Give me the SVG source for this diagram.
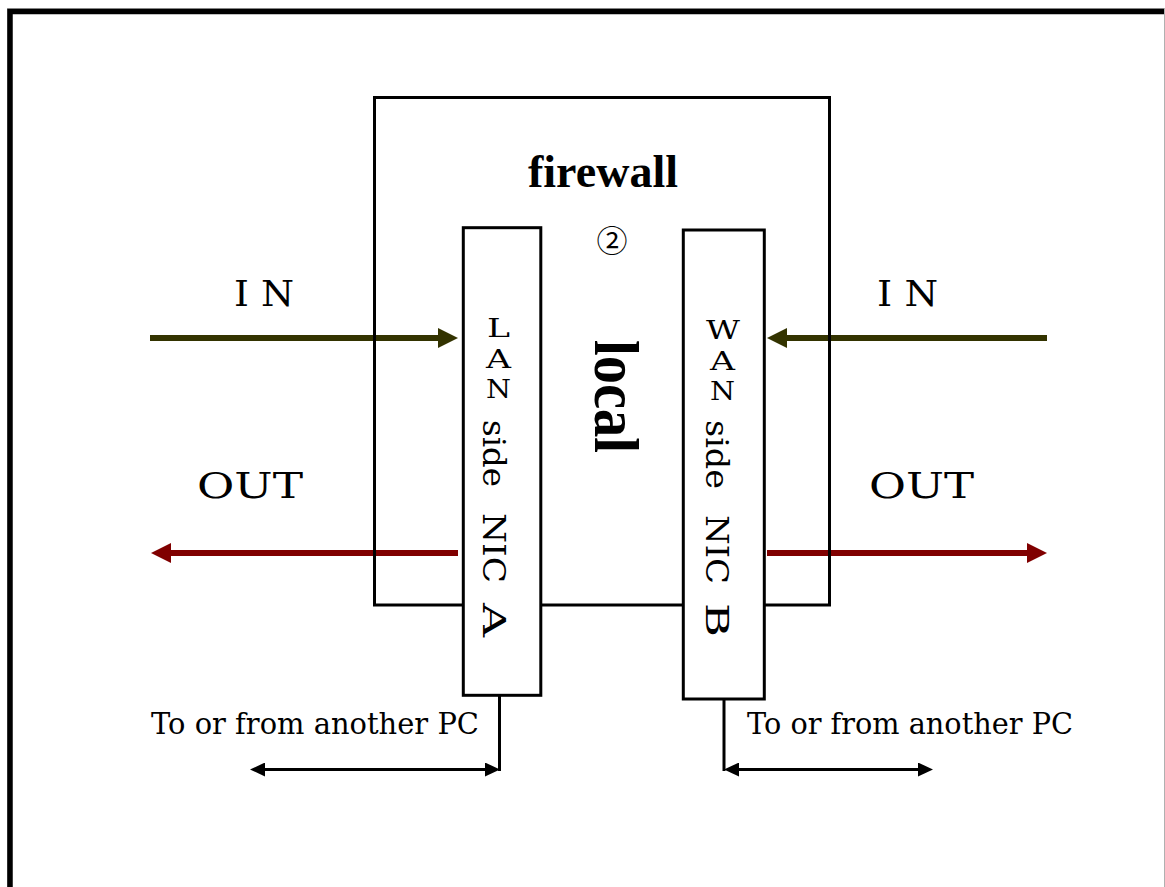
<svg xmlns="http://www.w3.org/2000/svg" width="1165" height="887" viewBox="0 0 1165 887">
  <style>
    .box { fill: #ffffff; stroke: #000000; stroke-width: 3; }
    .frame { fill: none; stroke: #000000; stroke-width: 3; }
    .lbl { font-family: "DejaVu Serif", "Liberation Serif", serif; fill: #000000; }
    .bold { font-family: "Liberation Serif", "DejaVu Serif", serif; font-weight: bold; fill: #000000; }
    .in { stroke: #333300; stroke-width: 6; fill: none; }
    .out { stroke: #800000; stroke-width: 6; fill: none; }
    .wire { stroke: #000000; stroke-width: 3; fill: none; }
  </style>
  <defs>
    <marker id="headIn" markerUnits="userSpaceOnUse" markerWidth="20" markerHeight="20" refX="2" refY="10" orient="auto">
      <path d="M0,0 L20,10 L0,20 z" fill="#333300"/>
    </marker>
    <marker id="headOut" markerUnits="userSpaceOnUse" markerWidth="20" markerHeight="20" refX="2" refY="10" orient="auto">
      <path d="M0,0 L20,10 L0,20 z" fill="#800000"/>
    </marker>
    <marker id="headBlk" markerUnits="userSpaceOnUse" markerWidth="16" markerHeight="14" refX="2" refY="7" orient="auto-start-reverse">
      <path d="M0,0 L15,7 L0,14 z" fill="#000000"/>
    </marker>
  </defs>

  <rect x="0" y="0" width="1165" height="887" fill="#ffffff"/>
  <g id="page-frame">
    <rect x="7.5" y="8.5" width="1157" height="900" fill="none" stroke="#b0b0b0" stroke-width="1"/>
    <path d="M10,887 V11.5 H1164" fill="none" stroke="#000000" stroke-width="5.5"/>
  </g>

  <g id="connectors">
    <line class="in" x1="150" y1="338" x2="440" y2="338" marker-end="url(#headIn)"/>
    <line class="out" x1="458" y1="553" x2="169" y2="553" marker-end="url(#headOut)"/>
    <line class="in" x1="1047" y1="338" x2="785" y2="338" marker-end="url(#headIn)"/>
    <line class="out" x1="767" y1="553" x2="1029" y2="553" marker-end="url(#headOut)"/>
    <path class="wire" d="M499.5,695 V771"/>
    <line class="wire" x1="263" y1="769.5" x2="487" y2="769.5" marker-start="url(#headBlk)" marker-end="url(#headBlk)"/>
    <path class="wire" d="M724,699 V771"/>
    <line class="wire" x1="737" y1="769.5" x2="920" y2="769.5" marker-start="url(#headBlk)" marker-end="url(#headBlk)"/>
  </g>

  <g id="firewall">
    <rect class="frame" x="374.5" y="97.5" width="455" height="507.5"/>
    <text class="bold" x="603" y="186.5" font-size="46" text-anchor="middle" textLength="150" lengthAdjust="spacingAndGlyphs">firewall</text>
    <text x="612" y="252" font-size="31" text-anchor="middle" font-family="'Noto Sans CJK JP', 'DejaVu Sans', sans-serif">②</text>
    <text class="bold" transform="translate(595,0) rotate(90)" x="340" y="0" font-size="63" textLength="113" lengthAdjust="spacingAndGlyphs">local</text>
  </g>

  <g id="nic-a">
    <rect class="box" x="463.3" y="227.7" width="77.5" height="467.6"/>
    <text class="lbl" x="487" y="337" font-size="26" textLength="23" lengthAdjust="spacingAndGlyphs">L</text>
    <text class="lbl" x="486" y="367.5" font-size="26" textLength="25" lengthAdjust="spacingAndGlyphs">A</text>
    <text class="lbl" x="486" y="398" font-size="26" textLength="25" lengthAdjust="spacingAndGlyphs">N</text>
    <text class="lbl" transform="translate(483,0) rotate(90)" y="0" font-size="32">
      <tspan x="420" textLength="67" lengthAdjust="spacingAndGlyphs">side</tspan>
      <tspan x="513" textLength="70" lengthAdjust="spacingAndGlyphs">NIC</tspan>
      <tspan x="603" textLength="34" lengthAdjust="spacingAndGlyphs">A</tspan>
    </text>
  </g>

  <g id="nic-b">
    <rect class="box" x="683.3" y="230" width="81" height="469"/>
    <text class="lbl" x="706" y="339" font-size="26" textLength="34" lengthAdjust="spacingAndGlyphs">W</text>
    <text class="lbl" x="710" y="369.5" font-size="26" textLength="25" lengthAdjust="spacingAndGlyphs">A</text>
    <text class="lbl" x="710" y="400" font-size="26" textLength="25" lengthAdjust="spacingAndGlyphs">N</text>
    <text class="lbl" transform="translate(706,0) rotate(90)" y="0" font-size="32">
      <tspan x="420" textLength="69" lengthAdjust="spacingAndGlyphs">side</tspan>
      <tspan x="515" textLength="69" lengthAdjust="spacingAndGlyphs">NIC</tspan>
      <tspan x="603" textLength="34" lengthAdjust="spacingAndGlyphs">B</tspan>
    </text>
  </g>

  <g id="labels">
    <text class="lbl" x="234" y="306" font-size="35" textLength="60" lengthAdjust="spacingAndGlyphs">I N</text>
    <text class="lbl" x="197" y="498" font-size="35" textLength="106" lengthAdjust="spacingAndGlyphs">OUT</text>
    <text class="lbl" x="877" y="306" font-size="35" textLength="61" lengthAdjust="spacingAndGlyphs">I N</text>
    <text class="lbl" x="869" y="498" font-size="35" textLength="105" lengthAdjust="spacingAndGlyphs">OUT</text>
    <text class="lbl" x="151" y="734" font-size="30" textLength="328" lengthAdjust="spacingAndGlyphs">To or from another PC</text>
    <text class="lbl" x="747" y="734" font-size="30" textLength="326" lengthAdjust="spacingAndGlyphs">To or from another PC</text>
  </g>
</svg>
